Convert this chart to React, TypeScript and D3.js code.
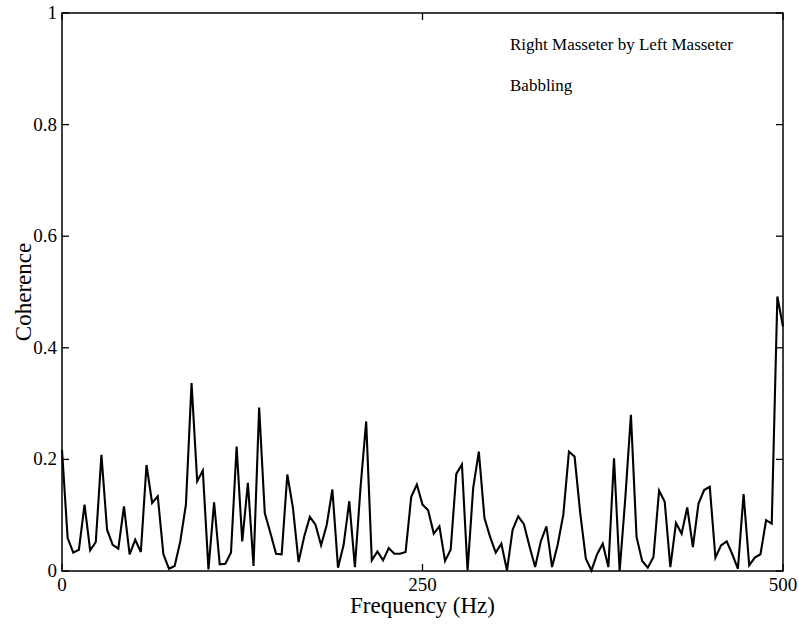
import React, { useEffect, useRef } from "react";
import * as d3 from "d3";

// coherence spectrum, 129 bins from 0 to 500 Hz
const freqStep = 500 / 128;
const coherence = [
  0.217, 0.059, 0.033, 0.038, 0.119, 0.037, 0.052, 0.208, 0.074, 0.047,
  0.040, 0.116, 0.030, 0.056, 0.034, 0.190, 0.122, 0.134, 0.030, 0.004,
  0.009, 0.053, 0.119, 0.337, 0.161, 0.180, 0.003, 0.123, 0.012, 0.013,
  0.033, 0.223, 0.053, 0.158, 0.009, 0.293, 0.104, 0.068, 0.031, 0.030,
  0.173, 0.113, 0.016, 0.062, 0.097, 0.083, 0.046, 0.083, 0.146, 0.006,
  0.047, 0.125, 0.007, 0.150, 0.268, 0.019, 0.035, 0.019, 0.041, 0.031,
  0.031, 0.034, 0.133, 0.155, 0.119, 0.109, 0.067, 0.080, 0.018, 0.038,
  0.174, 0.191, 0.001, 0.149, 0.214, 0.095, 0.061, 0.033, 0.049, 0.001,
  0.074, 0.098, 0.084, 0.044, 0.007, 0.053, 0.080, 0.007, 0.047, 0.101,
  0.214, 0.205, 0.104, 0.022, 0.001, 0.030, 0.049, 0.007, 0.202, 0.000,
  0.130, 0.280, 0.061, 0.018, 0.006, 0.025, 0.144, 0.124, 0.007, 0.086,
  0.067, 0.114, 0.043, 0.121, 0.145, 0.151, 0.024, 0.046, 0.053, 0.030,
  0.004, 0.138, 0.010, 0.024, 0.030, 0.091, 0.085, 0.492, 0.438,
];
const xTicks = [0, 250, 500];
const yTicks = [0, 0.2, 0.4, 0.6, 0.8, 1];
const notes = ["Right Masseter by Left Masseter", "Babbling"];

const W = 799;
const H = 627;
const margin = { top: 13, right: 16, bottom: 56, left: 62 };
const font = "'Liberation Serif', 'Times New Roman', serif";

export default function App() {
  const ref = useRef<SVGSVGElement>(null);

  useEffect(() => {
    const svg = d3.select(ref.current);
    svg.selectAll("*").remove();

    const x = d3.scaleLinear().domain([0, 500]).range([margin.left, W - margin.right]);
    const y = d3.scaleLinear().domain([0, 1]).range([H - margin.bottom, margin.top]);

    const g = svg.append("g");

    // frame
    g.append("rect")
      .attr("x", x(0)).attr("y", y(1))
      .attr("width", x(500) - x(0)).attr("height", y(0) - y(1))
      .attr("fill", "none").attr("stroke", "#000").attr("stroke-width", 1.5);

    const tk = 7;
    // y ticks, inward on both sides
    yTicks.forEach((v) => {
      g.append("line").attr("x1", x(0)).attr("x2", x(0) + tk)
        .attr("y1", y(v)).attr("y2", y(v)).attr("stroke", "#000").attr("stroke-width", 1.3);
      g.append("line").attr("x1", x(500)).attr("x2", x(500) - tk)
        .attr("y1", y(v)).attr("y2", y(v)).attr("stroke", "#000").attr("stroke-width", 1.3);
      g.append("text")
        .attr("x", x(0) - 5).attr("y", y(v) + 6)
        .attr("text-anchor", "end")
        .style("font-family", font).style("font-size", "19px")
        .text(v === 0 || v === 1 ? String(v) : d3.format(".1f")(v));
    });

    // x ticks, inward top and bottom
    xTicks.forEach((v) => {
      g.append("line").attr("x1", x(v)).attr("x2", x(v))
        .attr("y1", y(0)).attr("y2", y(0) - tk).attr("stroke", "#000").attr("stroke-width", 1.3);
      g.append("line").attr("x1", x(v)).attr("x2", x(v))
        .attr("y1", y(1)).attr("y2", y(1) + tk).attr("stroke", "#000").attr("stroke-width", 1.3);
      g.append("text")
        .attr("x", x(v)).attr("y", y(0) + 20)
        .attr("text-anchor", "middle")
        .style("font-family", font).style("font-size", "19px")
        .text(String(v));
    });

    const line = d3.line<number>()
      .x((_, i) => x(i * freqStep))
      .y((d) => y(d));

    g.append("path")
      .datum(coherence)
      .attr("d", line)
      .attr("fill", "none")
      .attr("stroke", "#000")
      .attr("stroke-width", 2.1)
      .attr("stroke-linejoin", "miter");

    g.append("text")
      .attr("x", (x(0) + x(500)) / 2).attr("y", H - 14)
      .attr("text-anchor", "middle")
      .style("font-family", font).style("font-size", "23px")
      .text("Frequency (Hz)");

    g.append("text")
      .attr("transform", `translate(31, ${(y(0) + y(1)) / 2}) rotate(-90)`)
      .attr("text-anchor", "middle")
      .style("font-family", font).style("font-size", "23px")
      .text("Coherence");

    notes.forEach((t, i) => {
      g.append("text")
        .attr("x", 510).attr("y", 50 + i * 41)
        .style("font-family", font).style("font-size", "17px")
        .text(t);
    });
  }, []);

  return (
    <svg ref={ref} width={W} height={H} style={{ position: "absolute", left: 0, top: 0, background: "#fff" }} />
  );
}
